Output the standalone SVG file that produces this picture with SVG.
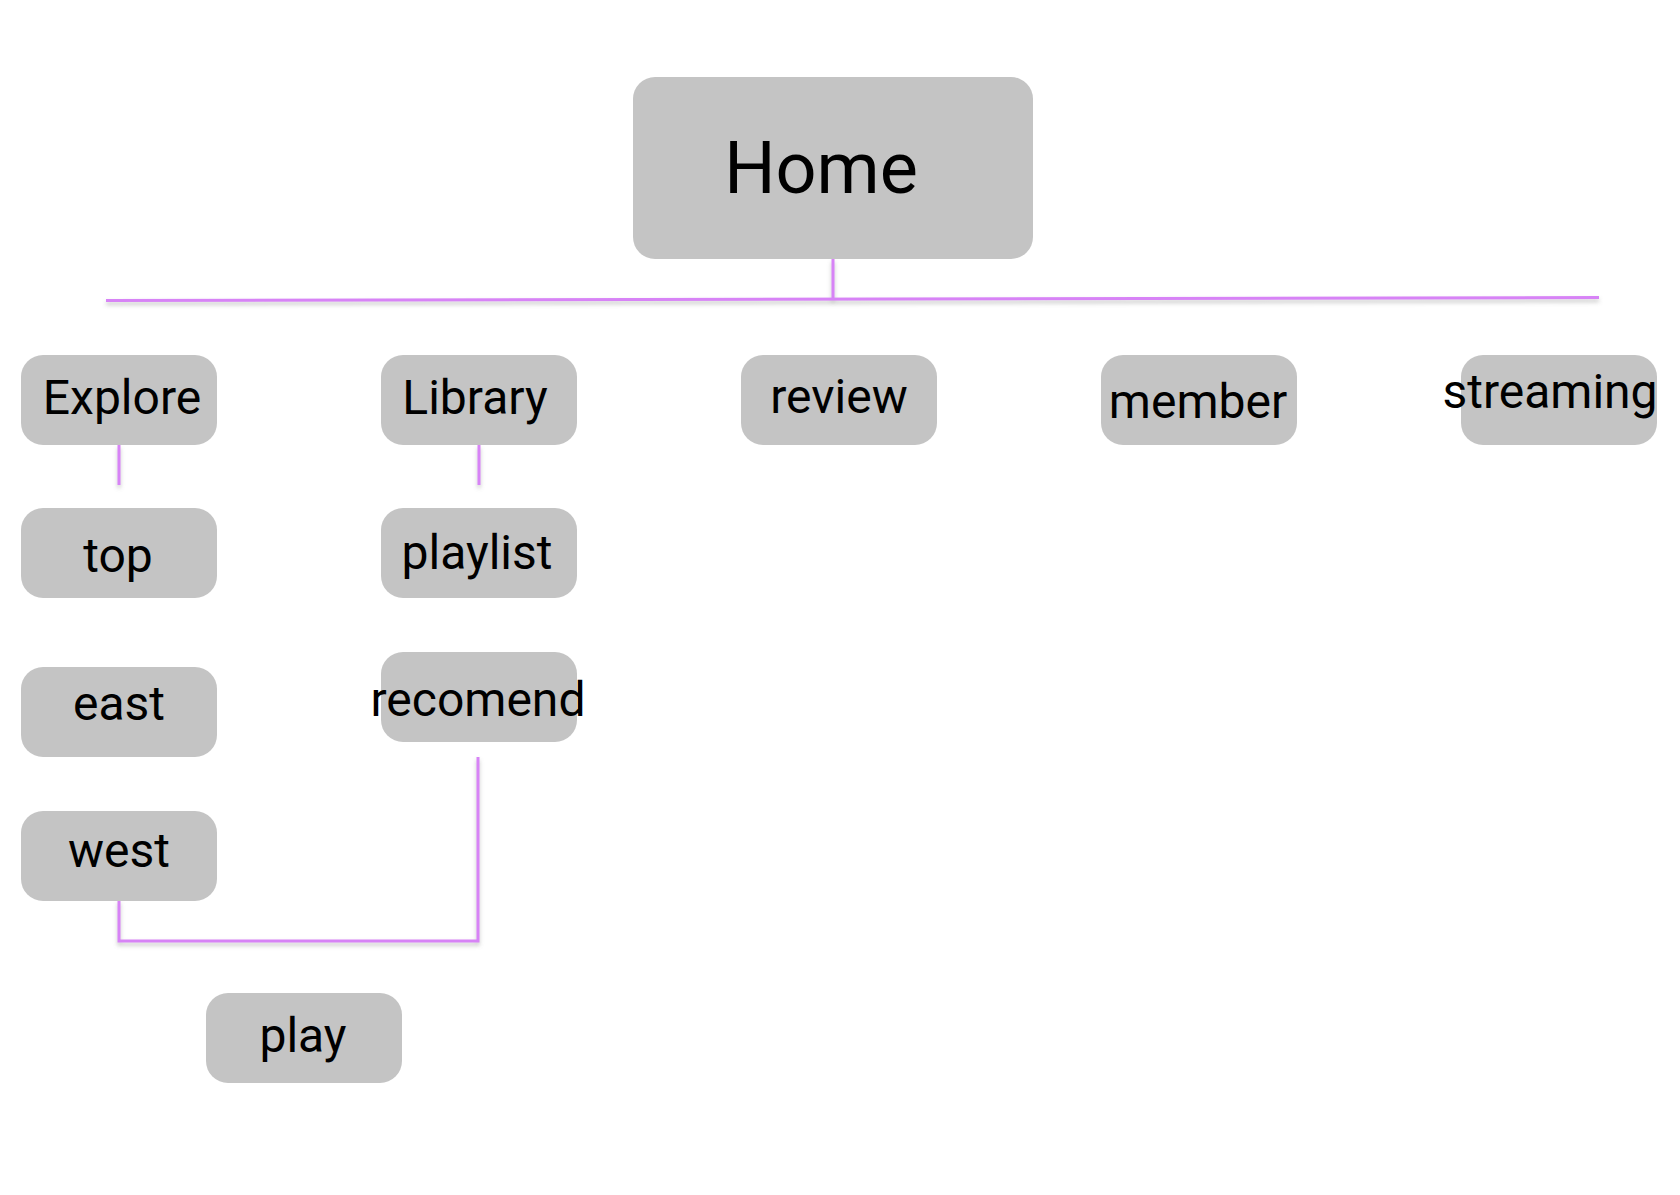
<svg xmlns="http://www.w3.org/2000/svg" width="1680" height="1195" viewBox="0 0 1680 1195">
<style>
.box{fill:#c4c4c4}
.t{font-family:Roboto,"Liberation Sans",Arial,sans-serif;font-size:48px;fill:#000;text-anchor:middle}
.home{font-size:72px}
.c{fill:none;stroke:#d783f6;stroke-width:3;filter:url(#sh)}
</style>
<defs>
<filter id="sh" filterUnits="userSpaceOnUse" x="0" y="0" width="1680" height="1195">
<feDropShadow dx="0" dy="3" stdDeviation="2" flood-color="#808080" flood-opacity="0.45"/>
</filter>
</defs>
<rect width="1680" height="1195" fill="#ffffff"/>
<g id="connectors">
<path class="c" d="M833,259 V299"/>
<path class="c" d="M106,300.5 L1599,297.5"/>
<path class="c" d="M119,445 V485"/>
<path class="c" d="M479,445 V485"/>
<path class="c" d="M478,757 V941 H119 V900"/>
</g>
<g id="home"><rect class="box" x="633" y="77" width="400" height="182" rx="22"/><text class="t home" x="821" y="193">Home</text></g>
<g id="explore"><rect class="box" x="21" y="355" width="196" height="90" rx="22"/><text class="t" x="122" y="414">Explore</text></g>
<g id="library"><rect class="box" x="381" y="355" width="196" height="90" rx="22"/><text class="t" x="475" y="414">Library</text></g>
<g id="review"><rect class="box" x="741" y="355" width="196" height="90" rx="22"/><text class="t" x="839" y="413">review</text></g>
<g id="member"><rect class="box" x="1101" y="355" width="196" height="90" rx="22"/><text class="t" x="1198" y="418">member</text></g>
<g id="streaming"><rect class="box" x="1461" y="355" width="196" height="90" rx="22"/><text class="t" x="1550" y="408">streaming</text></g>
<g id="top"><rect class="box" x="21" y="508" width="196" height="90" rx="22"/><text class="t" x="118" y="572">top</text></g>
<g id="playlist"><rect class="box" x="381" y="508" width="196" height="90" rx="22"/><text class="t" x="477" y="569">playlist</text></g>
<g id="east"><rect class="box" x="21" y="667" width="196" height="90" rx="22"/><text class="t" x="119" y="720">east</text></g>
<g id="recomend"><rect class="box" x="381" y="652" width="196" height="90" rx="22"/><text class="t" x="478" y="716">recomend</text></g>
<g id="west"><rect class="box" x="21" y="811" width="196" height="90" rx="22"/><text class="t" x="119" y="867">west</text></g>
<g id="play"><rect class="box" x="206" y="993" width="196" height="90" rx="22"/><text class="t" x="303" y="1052">play</text></g>
</svg>
